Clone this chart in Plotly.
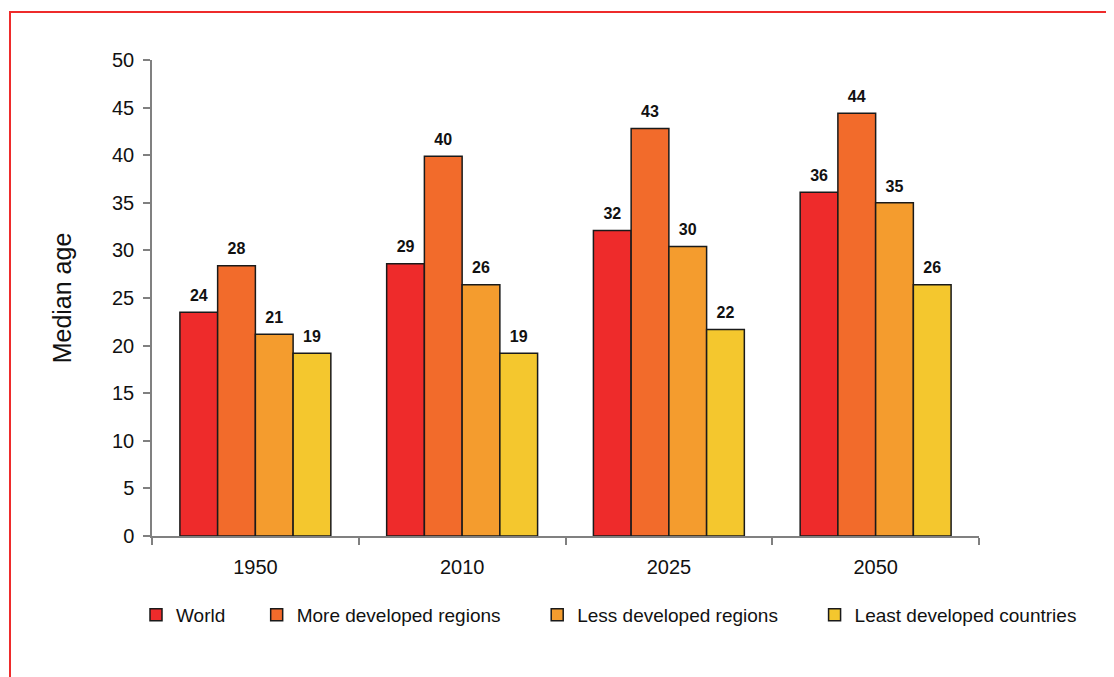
import plotly.graph_objects as go

years = ["1950", "2010", "2025", "2050"]
series_names = ["World", "More developed regions", "Less developed regions", "Least developed countries"]
world = [23.5, 28.6, 32.1, 36.1]
more_developed = [28.4, 39.9, 42.8, 44.4]
less_developed = [21.2, 26.4, 30.4, 35.0]
least_developed = [19.2, 19.2, 21.7, 26.4]
world_labels = ["24", "29", "32", "36"]
more_labels = ["28", "40", "43", "44"]
less_labels = ["21", "26", "30", "35"]
least_labels = ["19", "19", "22", "26"]
colors = ["#EE2B2B", "#F26B2B", "#F49C2E", "#F4C72E"]

values = [world, more_developed, less_developed, least_developed]
labels = [world_labels, more_labels, less_labels, least_labels]

FONT = "Liberation Sans, Arial"
pads = [5, 6, 6, 0]  # extra non-breaking spaces between legend entries

fig = go.Figure()
for i, (name, vals, col) in enumerate(zip(series_names, values, colors)):
    fig.add_trace(go.Bar(
        x=years, y=vals, name=name + "\u00a0" * pads[i],
        offsetgroup=str(i),
        marker=dict(color=col, line=dict(color="#1a1a1a", width=1.5)),
    ))
for i, (vals, labs) in enumerate(zip(values, labels)):
    fig.add_trace(go.Scatter(
        x=years, y=vals, text=labs, mode="markers+text", offsetgroup=str(i),
        textposition="top center", cliponaxis=False, showlegend=False, hoverinfo="skip",
        marker=dict(size=10, opacity=0),
        textfont=dict(family=FONT, size=16, color="#111111", weight="bold"),
    ))

# page has an 8px body margin; figure coordinates = page coordinates - 8
OFF = 8
W, H = 1114 - OFF, 677 - OFF
L, R, T, B = 152 - OFF, 979 - OFF, 60 - OFF, 536 - OFF
pw, ph = R - L, B - T

def px_x(p):
    return (p - OFF - L) / pw

def px_y(p):
    return (B - (p - OFF)) / ph

fig.update_layout(
    width=W, height=H,
    margin=dict(l=L, r=W - R, t=T, b=H - B, pad=0),
    paper_bgcolor="white", plot_bgcolor="white",
    barmode="group", bargap=0.27, bargroupgap=0,
    scattermode="group", scattergap=0.27,
    font=dict(family=FONT, color="#111111"),
    legend=dict(orientation="h", x=px_x(136), y=px_y(615), xanchor="left", yanchor="middle",
                font=dict(size=19, color="#111111"), itemclick=False, traceorder="normal"),
    showlegend=True,
    shapes=[dict(type="rect", xref="paper", yref="paper",
                 x0=px_x(10), x1=px_x(1111), y0=px_y(700), y1=px_y(12),
                 line=dict(color="#EE2B2B", width=2), fillcolor="rgba(0,0,0,0)", layer="below")],
)
fig.update_xaxes(
    type="category", showline=True, linecolor="#808080", linewidth=1.5,
    ticks="outside", tickson="boundaries", ticklen=7, tickcolor="#808080", tickwidth=1.5,
    tickfont=dict(size=20, color="#111111"), ticklabelstandoff=12,
    showgrid=False, zeroline=False,
)
fig.update_yaxes(
    range=[0, 50], dtick=5, showline=True, linecolor="#808080", linewidth=1.5,
    ticks="outside", ticklen=7, tickcolor="#808080", tickwidth=1.5,
    tickfont=dict(size=20, color="#111111"), ticklabelstandoff=5,
    showgrid=False, zeroline=False,
    title=dict(text="Median age", font=dict(size=25, color="#111111"), standoff=33),
)

fig.write_html("out.html")
